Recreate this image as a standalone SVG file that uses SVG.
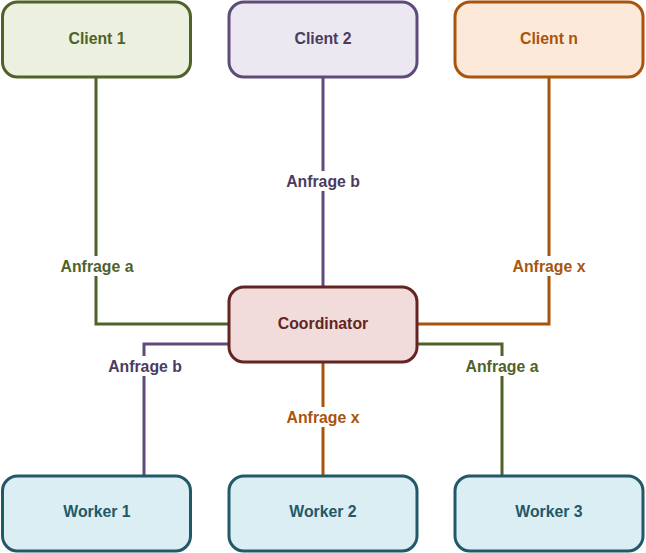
<svg xmlns="http://www.w3.org/2000/svg" width="646" height="553" viewBox="0 0 646 553">
<style>
text{font-family:"Liberation Sans",Arial,sans-serif;font-weight:bold;font-size:15.8px;text-anchor:middle;dominant-baseline:central}
.box{stroke-width:3}
.line{fill:none;stroke-width:3}
.lbl{fill:#fff}
.g{stroke:#4f6228}.gt{fill:#4f6228}
.p{stroke:#5f4a7b}.pt{fill:#4a3b63}
.o{stroke:#a8540d}.ot{fill:#a8540d}
.r{stroke:#632523}.rt{fill:#632523}
.a{stroke:#215968}.at{fill:#215968}
</style>
<rect width="646" height="553" fill="#fff"/>
<g id="connectors">
<path class="line g" d="M96 77V324H229"/>
<path class="line p" d="M323 77V287"/>
<path class="line o" d="M549 77V324H417"/>
<path class="line p" d="M229 344H144V477"/>
<path class="line o" d="M323 362V477"/>
<path class="line g" d="M417 344H502V477"/>
<rect class="lbl" x="56" y="256" width="81" height="20"/>
<text class="gt" x="97" y="266">Anfrage a</text>
<rect class="lbl" x="282" y="171" width="81" height="20"/>
<text class="pt" x="323" y="181">Anfrage b</text>
<rect class="lbl" x="508" y="256" width="81" height="20"/>
<text class="ot" x="549" y="266">Anfrage x</text>
<rect class="lbl" x="104" y="356" width="81" height="20"/>
<text class="pt" x="145" y="366">Anfrage b</text>
<rect class="lbl" x="282" y="407" width="81" height="20"/>
<text class="ot" x="323" y="417">Anfrage x</text>
<rect class="lbl" x="461" y="356" width="81" height="20"/>
<text class="gt" x="502" y="366">Anfrage a</text>
</g>
<g id="client1"><rect class="box g" x="2.5" y="2" width="188" height="75" rx="15" fill="#ebf1de"/><text class="gt" x="97" y="38">Client 1</text></g>
<g id="client2"><rect class="box p" x="229" y="2" width="188" height="75" rx="15" fill="#ece8f1"/><text class="pt" x="323" y="38">Client 2</text></g>
<g id="clientn"><rect class="box o" x="455" y="2" width="188" height="75" rx="15" fill="#fde9d9"/><text class="ot" x="549" y="38">Client n</text></g>
<g id="coordinator"><rect class="box r" x="229" y="287" width="188" height="75" rx="15" fill="#f2dcdb"/><text class="rt" x="323" y="323">Coordinator</text></g>
<g id="worker1"><rect class="box a" x="2.5" y="476" width="188" height="75" rx="15" fill="#dbeef3"/><text class="at" x="97" y="511">Worker 1</text></g>
<g id="worker2"><rect class="box a" x="229" y="476" width="188" height="75" rx="15" fill="#dbeef3"/><text class="at" x="323" y="511">Worker 2</text></g>
<g id="worker3"><rect class="box a" x="455" y="476" width="188" height="75" rx="15" fill="#dbeef3"/><text class="at" x="549" y="511">Worker 3</text></g>
</svg>
